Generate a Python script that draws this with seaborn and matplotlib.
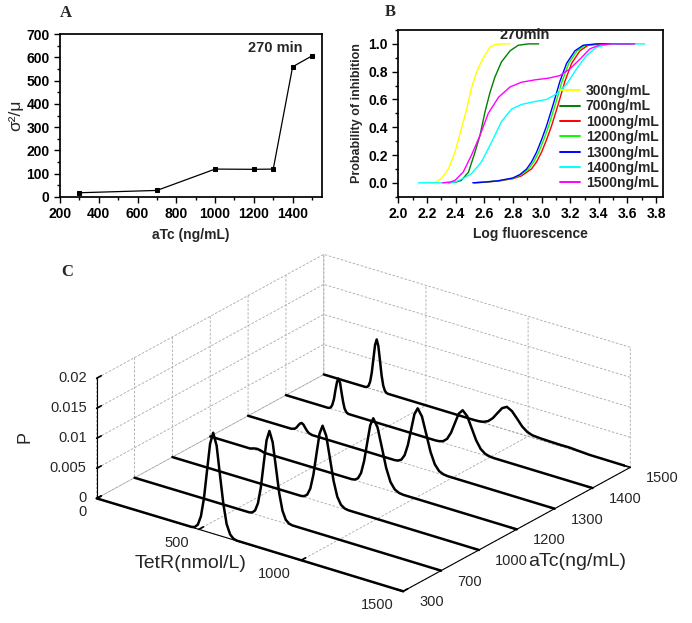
import numpy as np
import pandas as pd
import matplotlib
matplotlib.use("Agg")
import matplotlib.pyplot as plt
import seaborn as sns
from matplotlib.ticker import MultipleLocator, FormatStrFormatter
from mpl_toolkits.mplot3d import proj3d

sns.set_theme(style="ticks")
plt.rcParams["font.family"] = ["Liberation Sans", "DejaVu Sans"]
plt.rcParams["axes.edgecolor"] = "black"
plt.rcParams["xtick.color"] = "black"
plt.rcParams["ytick.color"] = "black"

# ---------------- panel A: fano factor vs aTc
atc_a = [300, 700, 1000, 1200, 1300, 1400, 1500]
fano_a = [17, 27, 119, 118, 119, 560, 607]

# ---------------- panel B: cumulative probability of inhibition
b_labels = ["300ng/mL", "700ng/mL", "1000ng/mL", "1200ng/mL",
            "1300ng/mL", "1400ng/mL", "1500ng/mL"]
b_colors = ["#ffff00", "#008000", "#ff0000", "#00ff00",
            "#0000ff", "#00ffff", "#ff00ff"]

logf_300 = [2.20, 2.26, 2.30, 2.35, 2.395, 2.44, 2.477, 2.51, 2.547, 2.593, 2.64, 2.674, 2.72, 2.78]
prob_300 = [0.0, 0.005, 0.03, 0.10, 0.22, 0.39, 0.53, 0.68, 0.80, 0.90, 0.976, 0.995, 1.0, 1.0]

logf_700 = [2.35, 2.40, 2.44, 2.49, 2.535, 2.57, 2.605, 2.64, 2.674, 2.72, 2.78, 2.837, 2.907, 2.98]
prob_700 = [0.0, 0.005, 0.017, 0.077, 0.22, 0.34, 0.51, 0.65, 0.76, 0.87, 0.95, 0.99, 1.0, 1.0]

logf_1000 = [2.53, 2.60, 2.70, 2.80, 2.86, 2.93, 2.965, 3.0, 3.035, 3.07, 3.115, 3.163, 3.21, 3.268, 3.325, 3.42, 3.65]
prob_1000 = [0.0, 0.004, 0.013, 0.03, 0.05, 0.10, 0.15, 0.22, 0.31, 0.41, 0.56, 0.73, 0.86, 0.95, 0.99, 1.0, 1.0]

logf_1200 = [2.53, 2.60, 2.70, 2.80, 2.85, 2.91, 2.945, 2.98, 3.015, 3.05, 3.095, 3.143, 3.19, 3.248, 3.305, 3.40, 3.63]
prob_1200 = [0.0, 0.005, 0.015, 0.033, 0.055, 0.10, 0.15, 0.22, 0.31, 0.41, 0.56, 0.73, 0.86, 0.95, 0.99, 1.0, 1.0]

logf_1300 = [2.52, 2.60, 2.70, 2.80, 2.85, 2.896, 2.93, 2.965, 3.0, 3.035, 3.08, 3.128, 3.175, 3.233, 3.29, 3.384, 3.62]
prob_1300 = [0.0, 0.005, 0.015, 0.035, 0.06, 0.10, 0.15, 0.22, 0.31, 0.41, 0.56, 0.73, 0.86, 0.95, 0.99, 1.0, 1.0]

logf_1400 = [2.14, 2.30, 2.395, 2.45, 2.51, 2.58, 2.65, 2.72, 2.79, 2.86, 2.953, 3.035, 3.105, 3.175, 3.244, 3.314, 3.384, 3.454, 3.547, 3.72]
prob_1400 = [0.0, 0.0, 0.005, 0.03, 0.065, 0.149, 0.29, 0.44, 0.53, 0.564, 0.585, 0.60, 0.64, 0.71, 0.82, 0.916, 0.976, 0.995, 1.0, 1.0]

logf_1500 = [2.31, 2.36, 2.395, 2.453, 2.51, 2.57, 2.628, 2.70, 2.78, 2.86, 2.953, 3.047, 3.128, 3.198, 3.268, 3.337, 3.407, 3.50, 3.65]
prob_1500 = [0.0, 0.005, 0.017, 0.077, 0.197, 0.34, 0.50, 0.616, 0.69, 0.724, 0.741, 0.753, 0.772, 0.82, 0.89, 0.964, 0.993, 1.0, 1.0]

# ---------------- panel C: TetR distributions per aTc level
atc_c = [300, 700, 1000, 1200, 1300, 1400, 1500]
tetr_ticks = [0, 500, 1000, 1500]
p_ticks = [0, 0.005, 0.01, 0.015, 0.02]
p_ticklabels = ["0", "0.005", "0.01", "0.015", "0.02"]

tetr_300 = [0, 465, 480, 495, 510, 525, 540, 555, 570, 587, 603, 620, 636, 653, 669, 686, 1500]
p_300 = [0, 0.00004, 0.00019, 0.00074, 0.00227, 0.00545, 0.01019, 0.01483, 0.0168,
         0.01483, 0.01019, 0.00545, 0.00227, 0.00074, 0.00019, 0.00004, 0]

tetr_700 = [0, 562, 576, 590, 604, 618, 632, 646, 660, 676, 692, 708, 724, 740, 756, 772, 1500]
p_700 = [0, 0.00003, 0.00016, 0.00064, 0.00198, 0.00474, 0.00886, 0.01288, 0.0146,
         0.01288, 0.00886, 0.00474, 0.00198, 0.00064, 0.00016, 0.00003, 0]

tetr_1000 = [0, 630, 645, 660, 675, 690, 705, 720, 735, 753, 771, 789, 807, 825, 843, 861, 1500]
p_1000 = [0, 0.00003, 0.00014, 0.00056, 0.00173, 0.00416, 0.00776, 0.0113, 0.0128,
          0.0113, 0.00776, 0.00416, 0.00173, 0.00056, 0.00014, 0.00003, 0]

tetr_1200 = [0, 195, 215, 230, 245, 265, 693, 708, 723, 738, 753, 768, 783, 798,
             819, 840, 861, 882, 903, 924, 945, 1500]
p_1200 = [0, 0, 0.00022, 0.0003, 0.00022, 0, 0.00002, 0.00012, 0.00049, 0.00152, 0.00365,
          0.00682, 0.00993, 0.01125, 0.00993, 0.00682, 0.00365, 0.00152, 0.00049, 0.00012, 0.00002, 0]

tetr_1300 = [0, 211, 228, 237, 245, 254, 262, 271, 279, 288, 296, 313,
             718, 734, 750, 766, 782, 798, 814, 830, 851, 872, 893, 914, 935, 956, 977, 1500]
p_1300 = [0, 0.00002, 0.0002, 0.00049, 0.00091, 0.00132, 0.0015, 0.00132, 0.00091, 0.00049, 0.0002, 0.00002,
          0.00002, 0.00011, 0.00043, 0.00133, 0.00318, 0.00594, 0.00865, 0.0098,
          0.00865, 0.00594, 0.00318, 0.00133, 0.00043, 0.00011, 0.00002, 0]

tetr_1400 = [0, 205, 212, 220, 227, 235, 242, 250, 257, 265, 272, 280, 287, 295, 302, 310,
             732, 751, 770, 789, 808, 827, 846, 865, 887, 909, 931, 953, 975, 997, 1019, 1500]
p_1400 = [0, 0.00001, 0.00006, 0.00024, 0.00073, 0.00175, 0.00328, 0.00477, 0.0054,
          0.00477, 0.00328, 0.00175, 0.00073, 0.00024, 0.00006, 0.00001,
          0.00001, 0.00007, 0.00028, 0.00087, 0.00208, 0.00388, 0.00565, 0.0064,
          0.00565, 0.00388, 0.00208, 0.00087, 0.00028, 0.00007, 0.00001, 0]

tetr_1500 = [0, 203, 211, 219, 227, 235, 243, 251, 259, 267, 275, 283, 291, 299, 307, 315,
             735, 758, 781, 804, 827, 850, 873, 896, 921, 946, 971, 996, 1021, 1060,
             1110, 1160, 1200, 1240, 1300, 1500]
p_1500 = [0, 0.00002, 0.00009, 0.00037, 0.00115, 0.00276, 0.00516, 0.0075, 0.0085,
          0.0075, 0.00516, 0.00276, 0.00115, 0.00037, 0.00009, 0.00002,
          0.00001, 0.00004, 0.00017, 0.00052, 0.00125, 0.00234, 0.0034, 0.00385,
          0.0034, 0.0024, 0.00135, 0.0007, 0.0004, 0.0003, 0.00025, 0.00022, 0.00024,
          0.00015, 0.00003, 0]

W, H = 692, 623
fig = plt.figure(figsize=(W / 100, H / 100), dpi=100)


def bold_ticks(ax, size=10):
    ax.tick_params(which="both", direction="out", labelsize=size, width=1)
    ax.tick_params(which="major", length=4)
    ax.tick_params(which="minor", length=2.5)
    for lab in ax.get_xticklabels() + ax.get_yticklabels():
        lab.set_fontweight("bold")


# ---- C first, drawn underneath the two 2d panels
axc = fig.add_axes([0.1, 0.02, 0.5, 0.5], projection="3d")
axc.set_zorder(0)
axc.patch.set_visible(False)
axc.set_proj_type("ortho")
axc.view_init(elev=24, azim=-53.3)
axc.set_box_aspect((1, 0.994, 0.344))
c_x = [tetr_300, tetr_700, tetr_1000, tetr_1200, tetr_1300, tetr_1400, tetr_1500]
c_p = [p_300, p_700, p_1000, p_1200, p_1300, p_1400, p_1500]
for k, (xs, ps) in enumerate(zip(c_x, c_p)):
    axc.plot(xs, [k] * len(xs), ps, color="black", lw=1.8)
axc.set_xlim(0, 1500)
axc.set_ylim(0, len(atc_c) - 1)
axc.set_zlim(0, 0.02)
axc.set_xticks(tetr_ticks)
axc.set_yticks(range(len(atc_c)))
axc.set_zticks(p_ticks)
axc.set_xticklabels([""] * len(tetr_ticks))
axc.set_yticklabels([""] * len(atc_c))
axc.set_zticklabels([""] * len(p_ticks))
axc.zaxis.set_ticks_position("lower")
for axis in (axc.xaxis, axc.yaxis, axc.zaxis):
    axis.set_pane_color((1, 1, 1, 0))
    axis.pane.set_edgecolor((1, 1, 1, 0))
    axis._axinfo["grid"].update(color="#a8a8a8", linewidth=0.6, linestyle=(0, (3, 2)))
    axis._axinfo["axisline"]["color"] = "black"
    axis._axinfo["tick"]["inward_factor"] = 0.0
    axis._axinfo["tick"]["outward_factor"] = 0.25
    axis.line.set_linewidth(0.8)
axc.grid(True)
axc.set_xlabel("")
axc.set_ylabel("")
axc.set_zlabel("")

# fit the projected box onto the reference location
fig.canvas.draw()
ny = len(atc_c) - 1


def to_px(x, y, z):
    u, v, _ = proj3d.proj_transform(np.atleast_1d(x).astype(float), np.atleast_1d(y).astype(float),
                                    np.atleast_1d(z).astype(float), axc.get_proj())
    return axc.transData.transform(np.column_stack([u, v]))


corners = np.array([[x, y, z] for x in (0, 1500) for y in (0, ny) for z in (0, 0.02)])
pix = to_px(corners[:, 0], corners[:, 1], corners[:, 2])
bb = axc.bbox
tx0, tx1, ty0, ty1 = 96.7, 630.2, H - 591.3, H - 254.3
s = 0.5 * ((tx1 - tx0) / np.ptp(pix[:, 0]) + (ty1 - ty0) / np.ptp(pix[:, 1]))
side = bb.width * s
nx0 = tx0 - (pix[:, 0].min() - bb.x0) * s
ny0 = ty0 - (pix[:, 1].min() - bb.y0) * s
axc.set_position([nx0 / W, ny0 / H, side / W, side / H])
fig.canvas.draw()

# tick labels of the 3d panel, placed next to the projected ticks
for t, (px, py) in zip(tetr_ticks, to_px(tetr_ticks, [0] * 4, [0] * 4)):
    fig.text((px - 10) / W, (py - 14) / H, str(t), fontsize=10.5, ha="right", va="center")
for a, (px, py) in zip(atc_c, to_px([1500] * 7, range(7), [0] * 7)):
    fig.text((px + 16) / W, (py - 11) / H, str(a), fontsize=10.5, ha="left", va="center")
for lab, (px, py) in zip(p_ticklabels, to_px([0] * 5, [0] * 5, p_ticks)):
    fig.text((px - 10) / W, py / H, lab, fontsize=10.5, ha="right", va="center")

fig.text(25 / W, 1 - 436.7 / H, "P", rotation=90, fontsize=13, ha="center", va="center")
fig.text(135 / W, 1 - 563.3 / H, "TetR(nmol/L)", fontsize=14, ha="left", va="center")
fig.text(528.3 / W, 1 - 561.7 / H, "aTc(ng/mL)", fontsize=14, ha="left", va="center")
fig.text(66.7 / W, 1 - 271.7 / H, "C", family="Liberation Serif", fontweight="bold",
         fontsize=12, ha="center", va="center")

# ---- A
axa = fig.add_axes([60 / W, 1 - 196.7 / H, 261.7 / W, 162.4 / H])
axa.set_zorder(2)
sns.lineplot(x=atc_a, y=fano_a, ax=axa, color="black", lw=0.9, marker="s",
             markersize=3.5, markeredgecolor="black")
axa.set_xlim(200, 1550)
axa.set_ylim(0, 700)
axa.xaxis.set_major_locator(MultipleLocator(200))
axa.xaxis.set_minor_locator(MultipleLocator(100))
axa.yaxis.set_major_locator(MultipleLocator(100))
axa.yaxis.set_minor_locator(MultipleLocator(50))
bold_ticks(axa)
axa.set_xlabel("aTc (ng/mL)", fontsize=10, fontweight="bold", labelpad=5)
axa.set_ylabel("σ²/μ", fontsize=12.5, labelpad=2)
axa.text(0.823, 0.917, "270 min", transform=axa.transAxes, ha="center", va="center",
         fontsize=10.5, fontweight="bold")
fig.text(66 / W, 1 - 12.7 / H, "A", family="Liberation Serif", fontweight="bold",
         fontsize=12, ha="center", va="center")

# ---- B
axb = fig.add_axes([398.3 / W, 1 - 196.7 / H, 265 / W, 166.7 / H])
axb.set_zorder(2)
b_x = [logf_300, logf_700, logf_1000, logf_1200, logf_1300, logf_1400, logf_1500]
b_y = [prob_300, prob_700, prob_1000, prob_1200, prob_1300, prob_1400, prob_1500]
df_b = pd.concat([pd.DataFrame({"logf": xs, "prob": ys, "aTc": lab})
                  for xs, ys, lab in zip(b_x, b_y, b_labels)], ignore_index=True)
sns.lineplot(data=df_b, x="logf", y="prob", hue="aTc", hue_order=b_labels,
             palette=dict(zip(b_labels, b_colors)), lw=1.0, ax=axb)
axb.set_xlim(2.0, 3.85)
axb.set_ylim(-0.1, 1.1)
axb.xaxis.set_major_locator(MultipleLocator(0.2))
axb.xaxis.set_minor_locator(MultipleLocator(0.1))
axb.yaxis.set_major_locator(MultipleLocator(0.2))
axb.yaxis.set_minor_locator(MultipleLocator(0.1))
axb.xaxis.set_major_formatter(FormatStrFormatter("%.1f"))
axb.yaxis.set_major_formatter(FormatStrFormatter("%.1f"))
bold_ticks(axb)
axb.set_xlabel("Log fluorescence", fontsize=10, fontweight="bold", labelpad=4)
axb.set_ylabel("Probability of inhibition", fontsize=9, fontweight="bold", labelpad=4)
axb.text(0.478, 0.97, "270min", transform=axb.transAxes, ha="center", va="center",
         fontsize=10.5, fontweight="bold")
sns.move_legend(axb, "upper left", bbox_to_anchor=(0.61, 0.676), frameon=False, title=None,
                prop={"weight": "bold", "size": 10}, handlelength=1.45, handletextpad=0.4,
                labelspacing=0.1, borderaxespad=0, borderpad=0)
for line in axb.get_legend().get_lines():
    line.set_linewidth(1.4)
fig.text(390 / W, 1 - 12 / H, "B", family="Liberation Serif", fontweight="bold",
         fontsize=12, ha="center", va="center")

fig.savefig("out.png", dpi=100)
